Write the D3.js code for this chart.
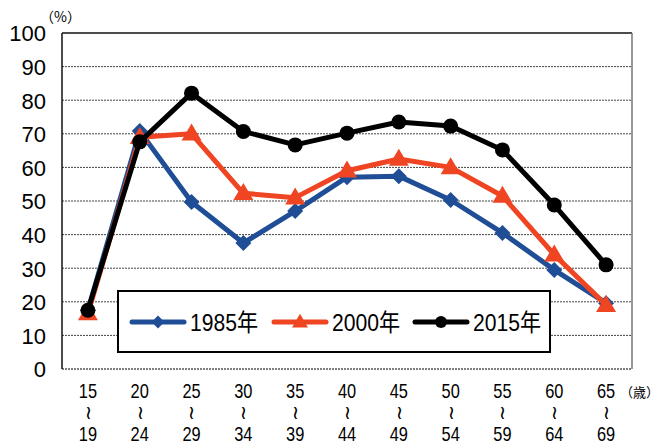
<!DOCTYPE html>
<html><head><meta charset="utf-8">
<script src="https://cdn.jsdelivr.net/npm/d3@7"></script>
<style>body{margin:0;background:#fff}svg{display:block}</style>
</head><body>
<script>
const ageTop = ["15","20","25","30","35","40","45","50","55","60","65"];
const ageBottom = ["19","24","29","34","39","44","49","54","59","64","69"];
const yTicks = [0,10,20,30,40,50,60,70,80,90,100];
const seriesNames = ["1985年","2000年","2015年"];
const v1985 = [17.5,70.8,49.7,37.5,47,57.1,57.4,50.3,40.5,29.5,19.6];
const v2000 = [16.5,69,70,52.3,51,59,62.5,60,51.5,34,19];
const v2015 = [17.5,67.6,82.1,70.7,66.7,70.2,73.5,72.3,65.2,48.8,31];
const colors = ["#1f4e96","#ef4523","#000000"];
const shapes = ["diamond","triangle","circle"];

const W=661,H=445;
const L=62,R=632,T=33,B=369;
const svg=d3.select("body").append("svg").attr("width",W).attr("height",H);
const x=d3.scalePoint().domain(ageTop).range([L,R]).padding(0.5);
const y=d3.scaleLinear().domain([0,100]).range([B,T]);
const numFont="'Liberation Sans','Noto Sans CJK JP',sans-serif";
const cjkFont="'Noto Sans CJK JP',sans-serif";

// gridlines
svg.append("g").selectAll("line").data(yTicks.filter(d=>d>0&&d<100)).join("line")
  .attr("x1",L).attr("x2",R).attr("y1",d=>y(d)).attr("y2",d=>y(d))
  .attr("stroke","#444").attr("stroke-width",1).attr("stroke-dasharray","2,1");
// frame
svg.append("line").attr("x1",L).attr("x2",R).attr("y1",y(100)).attr("y2",y(100)).attr("stroke","#111").attr("stroke-width",1.5);
svg.append("line").attr("x1",R).attr("x2",R).attr("y1",T).attr("y2",B).attr("stroke","#777").attr("stroke-width",1.5);
svg.append("line").attr("x1",L).attr("x2",R).attr("y1",B).attr("y2",B).attr("stroke","#555").attr("stroke-width",1.5).attr("stroke-dasharray","2,1");
svg.append("line").attr("x1",L).attr("x2",L).attr("y1",T).attr("y2",B).attr("stroke","#111").attr("stroke-width",1.5);

// y axis labels
const yAxis=d3.axisLeft(y).tickValues(yTicks).tickSize(0).tickPadding(16);
const ya=svg.append("g").attr("transform",`translate(${L},0)`).call(yAxis);
ya.select(".domain").remove();
ya.selectAll("text").attr("font-family",numFont).attr("font-size",22).attr("fill","#000").attr("dy","0.36em");

// x labels
const xg=svg.append("g");
ageTop.forEach((a,i)=>{
  const cx=x(a);
  const g=xg.append("g").attr("transform",`translate(${cx},0)`);
  g.append("text").attr("transform","translate(0,398) scale(0.82,1)").attr("text-anchor","middle").attr("font-family",numFont).attr("font-size",20).text(a);
  g.append("text").attr("transform",`translate(0,413) rotate(90)`).attr("text-anchor","middle").attr("dy","0.32em").attr("font-family","'DejaVu Sans',sans-serif").attr("font-size",19).text("~");
  g.append("text").attr("transform","translate(0,441) scale(0.82,1)").attr("text-anchor","middle").attr("font-family",numFont).attr("font-size",20).text(ageBottom[i]);
});
svg.append("text").attr("x",659).attr("y",397).attr("text-anchor","end").attr("font-family",cjkFont).attr("font-size",13).text("（歳）");
svg.append("text").attr("x",40).attr("y",22).attr("font-family",cjkFont).attr("font-size",14).text("（%）");

const datasets=[v1985,v2000,v2015];
const line=d3.line().x((d,i)=>x(ageTop[i])).y(d=>y(d));
function drawMarker(g,shape,color,cx,cy,k){
  if(shape==="diamond"){
    const h=8*k;
    g.append("path").attr("d",`M${cx},${cy-h}L${cx+h},${cy}L${cx},${cy+h}L${cx-h},${cy}Z`).attr("fill",color);
  } else if(shape==="triangle"){
    const w=10*k, hh=17*k;
    g.append("path").attr("d",`M${cx},${cy-hh*0.6}L${cx+w},${cy+hh*0.4}L${cx-w},${cy+hh*0.4}Z`).attr("fill",color);
  } else {
    g.append("circle").attr("cx",cx).attr("cy",cy).attr("r",7.5*k).attr("fill",color);
  }
}
datasets.forEach((vals,si)=>{
  const g=svg.append("g");
  g.append("path").datum(vals).attr("d",line).attr("fill","none").attr("stroke",colors[si]).attr("stroke-width",5).attr("stroke-linejoin","round");
  vals.forEach((v,i)=>drawMarker(g,shapes[si],colors[si],x(ageTop[i]),y(v),1));
});

// legend
const lg=svg.append("g");
lg.append("rect").attr("x",118).attr("y",291).attr("width",432).attr("height",61).attr("fill","#fff").attr("stroke","#000").attr("stroke-width",2);
const legX=[130,272,413];
seriesNames.forEach((n,si)=>{
  const x0=legX[si], ly=322;
  lg.append("line").attr("x1",x0+2).attr("x2",x0+54).attr("y1",ly).attr("y2",ly).attr("stroke",colors[si]).attr("stroke-width",5).attr("stroke-linecap","round");
  drawMarker(lg,shapes[si],colors[si],x0+28,ly,0.8);
  lg.append("text").attr("transform",`translate(${x0+60},${ly+9}) scale(0.88,1)`).attr("font-family",numFont).attr("font-size",24).text(n);
});
</script>
</body></html>
